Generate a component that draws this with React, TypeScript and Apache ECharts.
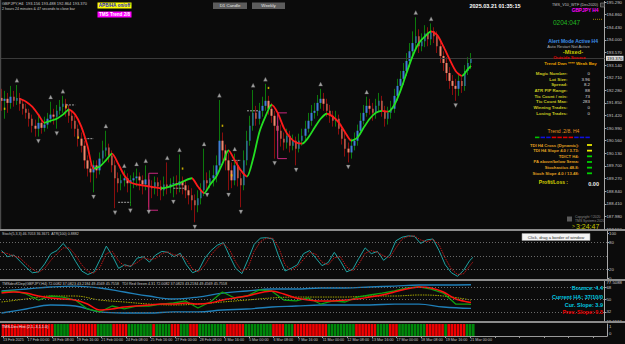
import React, { useEffect, useRef } from "react";
import * as echarts from "echarts";

const FONT = "'Liberation Sans', Arial, sans-serif";
const BG = "#0b0b0b";
const CAT_COUNT = 197;

const xTickLabels = [
  "13 Feb 2025", "17 Feb 00:00", "18 Feb 08:00", "19 Feb 16:00", "21 Feb 00:00",
  "24 Feb 08:00", "25 Feb 16:00", "27 Feb 00:00", "28 Feb 08:00", "3 Mar 16:00",
  "5 Mar 00:00", "6 Mar 08:00", "7 Mar 16:00", "11 Mar 00:00", "12 Mar 08:00",
  "13 Mar 16:00", "17 Mar 00:00", "18 Mar 08:00", "19 Mar 16:00", "21 Mar 00:00",
];

const open = [
  192.02, 191.92, 191.99, 191.85, 192.06, 191.92, 192.02, 191.82, 191.65, 191.51,
  191.31, 191.07, 190.97, 191.17, 191.00, 191.11, 191.31, 191.45, 191.38, 191.58,
  191.72, 191.82, 191.65, 191.41, 191.24, 190.97, 190.63, 190.39, 189.89, 189.61,
  189.48, 189.72, 189.55, 189.95, 190.23, 190.33, 190.06, 189.72, 189.28, 189.11,
  189.21, 189.28, 189.11, 189.21, 189.28, 189.34, 189.21, 189.07, 189.24, 189.00,
  188.94, 189.14, 189.00, 188.87, 189.07, 188.97, 189.07, 189.11, 189.04, 189.17,
  189.04, 188.87, 188.70, 188.53, 188.36, 188.60, 188.87, 189.21, 189.11, 189.28,
  189.38, 189.72, 190.56, 190.23, 189.89, 189.55, 189.21, 189.72, 189.28, 189.04,
  189.89, 190.56, 191.07, 191.51, 191.31, 191.58, 191.75, 191.92, 191.65, 191.41,
  191.07, 190.90, 190.63, 190.50, 190.73, 190.39, 190.56, 190.29, 190.56, 190.73,
  190.97, 191.24, 191.51, 191.58, 191.85, 191.99, 191.82, 191.58, 191.41, 191.24,
  191.31, 190.97, 190.63, 190.29, 190.16, 190.39, 190.56, 190.90, 191.24, 191.51,
  191.75, 191.65, 191.51, 191.75, 191.92, 191.58, 191.31, 191.51, 191.65, 192.09,
  192.43, 192.67, 192.94, 193.28, 193.61, 193.89, 194.12, 193.78, 193.95, 194.22,
  194.02, 194.29, 194.12, 193.78, 193.45, 193.21, 192.87, 192.60, 192.43, 192.33,
  192.60, 192.43, 192.94, 193.21,
];
const close = [
  191.92, 191.99, 191.85, 192.06, 191.92, 192.02, 191.82, 191.65, 191.51, 191.31,
  191.07, 190.97, 191.17, 191.00, 191.11, 191.31, 191.45, 191.38, 191.58, 191.72,
  191.82, 191.65, 191.41, 191.24, 190.97, 190.63, 190.39, 189.89, 189.61, 189.48,
  189.72, 189.55, 189.95, 190.23, 190.33, 190.06, 189.72, 189.28, 189.11, 189.21,
  189.28, 189.11, 189.21, 189.28, 189.34, 189.21, 189.07, 189.24, 189.00, 188.94,
  189.14, 189.00, 188.87, 189.07, 188.97, 189.07, 189.11, 189.04, 189.17, 189.04,
  188.87, 188.70, 188.53, 188.36, 188.60, 188.87, 189.21, 189.11, 189.28, 189.38,
  189.72, 190.56, 190.23, 189.89, 189.55, 189.21, 189.72, 189.28, 189.04, 189.89,
  190.56, 191.07, 191.51, 191.31, 191.58, 191.75, 191.92, 191.65, 191.41, 191.07,
  190.90, 190.63, 190.50, 190.73, 190.39, 190.56, 190.29, 190.56, 190.73, 190.97,
  191.24, 191.51, 191.58, 191.85, 191.99, 191.82, 191.58, 191.41, 191.24, 191.31,
  190.97, 190.63, 190.29, 190.16, 190.39, 190.56, 190.90, 191.24, 191.51, 191.75,
  191.65, 191.51, 191.75, 191.92, 191.58, 191.31, 191.51, 191.65, 192.09, 192.43,
  192.67, 192.94, 193.28, 193.61, 193.89, 194.12, 193.78, 193.95, 194.22, 194.02,
  194.29, 194.12, 193.78, 193.45, 193.21, 192.87, 192.60, 192.43, 192.33, 192.60,
  192.43, 192.94, 193.21, 193.37,
];
const high = [
  192.33, 192.26, 192.19, 192.43, 192.26, 192.46, 192.19, 191.95, 191.82, 191.65,
  191.45, 191.28, 191.41, 191.31, 191.38, 191.51, 191.89, 191.65, 191.78, 191.95,
  192.09, 191.99, 191.78, 191.58, 191.41, 191.11, 190.84, 190.56, 190.06, 189.78,
  189.89, 189.89, 190.16, 190.56, 190.90, 190.46, 190.23, 189.89, 189.48, 189.41,
  189.55, 189.45, 189.38, 189.48, 189.61, 189.48, 189.38, 189.72, 189.38, 189.21,
  189.34, 189.31, 189.21, 189.34, 189.82, 189.28, 189.34, 189.38, 190.09, 189.34,
  189.21, 189.04, 188.94, 188.73, 188.87, 189.11, 190.29, 189.48, 189.55, 189.72,
  190.06, 191.95, 190.84, 190.43, 190.16, 189.82, 190.12, 189.89, 189.48, 190.23,
  190.90, 191.41, 192.29, 191.75, 191.85, 192.06, 192.50, 192.09, 191.85, 191.58,
  191.24, 191.11, 190.84, 190.97, 190.90, 190.77, 190.70, 190.80, 190.97, 191.24,
  191.51, 191.78, 191.85, 192.12, 192.33, 192.19, 191.99, 191.78, 191.58, 191.58,
  191.45, 191.11, 190.84, 190.50, 190.63, 190.84, 191.11, 191.51, 191.78, 192.06,
  191.99, 191.85, 191.99, 192.19, 192.09, 191.75, 191.72, 191.92, 192.33, 192.67,
  192.94, 193.21, 193.55, 193.89, 194.29, 194.77, 194.36, 194.22, 194.50, 194.43,
  194.56, 194.43, 194.29, 193.95, 193.61, 193.41, 193.07, 192.80, 192.67, 192.80,
  192.73, 193.14, 193.41, 193.55,
];
const low = [
  191.58, 191.31, 191.51, 191.65, 191.72, 191.78, 191.58, 191.45, 191.31, 191.04,
  190.84, 190.70, 190.70, 190.80, 190.87, 190.97, 191.17, 191.11, 190.97, 191.45,
  191.51, 191.38, 191.17, 190.97, 190.70, 190.36, 190.16, 189.61, 189.34, 189.14,
  188.80, 189.28, 189.41, 189.82, 190.02, 189.82, 189.48, 188.26, 188.80, 188.87,
  189.00, 188.80, 188.33, 188.94, 189.00, 188.87, 188.73, 188.87, 188.29, 188.60,
  188.73, 188.67, 188.53, 188.67, 188.73, 188.77, 188.63, 188.73, 188.80, 188.73,
  188.60, 188.39, 188.19, 187.78, 188.12, 188.39, 188.67, 188.87, 188.94, 189.00,
  189.14, 189.55, 189.89, 189.55, 188.87, 188.94, 189.04, 189.00, 188.29, 188.87,
  189.72, 190.39, 190.90, 191.07, 191.11, 191.38, 191.58, 191.45, 191.17, 189.95,
  190.56, 190.36, 190.23, 190.29, 190.16, 190.23, 189.72, 190.16, 190.39, 190.56,
  190.84, 191.07, 191.31, 191.41, 191.65, 191.58, 191.38, 191.17, 191.04, 191.04,
  190.77, 190.43, 190.02, 189.82, 189.95, 190.23, 190.39, 190.77, 191.11, 191.38,
  191.45, 191.24, 191.31, 191.58, 191.38, 191.04, 191.11, 191.31, 191.51, 191.92,
  192.26, 192.46, 192.77, 193.07, 193.41, 193.68, 193.55, 193.61, 193.75, 193.78,
  193.82, 193.89, 193.55, 193.21, 192.94, 192.60, 192.33, 192.12, 191.92, 192.09,
  192.19, 192.26, 192.80, 193.00,
];

// smoothed trend line [bar, price]
const maLine = [
  [6, 191.99], [8, 191.89], [10, 191.72], [12, 191.45], [14, 191.17], [16, 191.24], [18, 191.31],
  [20, 191.45], [22, 191.62], [24, 191.45], [26, 191.04], [28, 190.39], [30, 189.61], [32, 189.68],
  [34, 189.89], [36, 190.12], [38, 189.78], [40, 189.38], [42, 189.14], [44, 189.07], [46, 189.04],
  [48, 189.0], [50, 188.97], [52, 188.94], [54, 188.97], [56, 189.04], [58, 189.11], [60, 189.21],
  [62, 189.28], [64, 189.0], [66, 188.77], [68, 189.07], [70, 189.34], [72, 189.78], [74, 190.23],
  [76, 189.89], [78, 189.55], [80, 189.34], [82, 189.95], [84, 190.84], [86, 191.38], [88, 191.78],
  [90, 191.51], [92, 191.0], [94, 190.67], [96, 190.5], [98, 190.46], [100, 190.67], [102, 191.0],
  [104, 191.31], [106, 191.48], [108, 191.38], [110, 191.17], [112, 190.84], [114, 190.56],
  [116, 190.67], [118, 191.0], [120, 191.31], [122, 191.51], [124, 191.58], [126, 191.55],
  [128, 191.78], [130, 192.26], [132, 192.87], [134, 193.45], [136, 193.89], [138, 194.12],
  [140, 194.29], [142, 194.16], [144, 193.78], [146, 193.34], [148, 192.94], [150, 192.77],
  [152, 193.0], [153, 193.11],
];

const upFractals = [5, 16, 20, 34, 40, 44, 47, 54, 58, 66, 71, 76, 82, 86, 104, 119, 135, 140];
const downFractals = [12, 18, 30, 37, 42, 48, 56, 63, 67, 74, 78, 89, 96, 113, 148];

// [fromBar, toBar, price]
const grayDashes = [
  [21, 24, 191.78], [27, 30, 190.63], [38, 42, 188.46], [56, 60, 188.94], [75, 78, 189.89], [80, 84, 191.58],
];
// [fromBar, toBar, upperPrice, lowerPrice]
const magentaBrackets = [
  [48, 51, 189.45, 188.19], [90, 93, 191.51, 189.95],
];
// [bar, price]
const yellowMarks = [
  [1, 191.65], [21, 191.72], [25, 190.67], [59, 189.61], [72, 191.07], [75, 189.38], [87, 192.36],
];

const stochK = [
  [0, 62], [2, 48], [4, 52], [6, 38], [8, 24], [10, 12], [12, 14], [14, 32], [16, 55], [18, 62],
  [20, 78], [22, 62], [24, 38], [26, 16], [28, 8], [30, 14], [32, 42], [34, 72], [36, 50], [38, 22],
  [40, 30], [42, 26], [44, 45], [46, 48], [48, 36], [50, 52], [52, 60], [54, 58], [56, 48], [58, 56],
  [60, 30], [62, 12], [64, 18], [66, 45], [68, 62], [70, 74], [72, 80], [74, 50], [76, 22], [78, 10],
  [80, 42], [82, 76], [84, 90], [86, 91], [88, 88], [90, 48], [92, 16], [94, 22], [96, 30], [98, 55],
  [100, 62], [102, 45], [104, 28], [106, 35], [108, 58], [110, 38], [112, 14], [114, 20], [116, 45],
  [118, 68], [120, 55], [122, 60], [124, 40], [126, 52], [128, 84], [130, 92], [132, 95], [134, 94],
  [136, 78], [138, 86], [140, 88], [142, 62], [144, 30], [146, 12], [148, 4], [150, 18], [152, 40],
  [153, 46.7],
];
const stochD = [
  [0, 58], [2, 55], [4, 50], [6, 45], [8, 32], [10, 20], [12, 13], [14, 22], [16, 40], [18, 55],
  [20, 68], [22, 68], [24, 52], [26, 30], [28, 15], [30, 11], [32, 25], [34, 55], [36, 60], [38, 38],
  [40, 27], [42, 28], [44, 35], [46, 46], [48, 42], [50, 44], [52, 55], [54, 59], [56, 52], [58, 52],
  [60, 42], [62, 20], [64, 14], [66, 30], [68, 52], [70, 68], [72, 78], [74, 64], [76, 36], [78, 15],
  [80, 24], [82, 60], [84, 82], [86, 90], [88, 90], [90, 68], [92, 30], [94, 18], [96, 26], [98, 42],
  [100, 58], [102, 54], [104, 36], [106, 30], [108, 46], [110, 48], [112, 25], [114, 16], [116, 32],
  [118, 56], [120, 62], [122, 58], [124, 50], [126, 46], [128, 68], [130, 88], [132, 94], [134, 95],
  [136, 86], [138, 82], [140, 87], [142, 75], [144, 45], [146, 20], [148, 8], [150, 10], [152, 28],
  [153, 36.4],
];

const tmsUpper = [
  [0, 62.8], [8, 65.7], [16, 68.7], [24, 70.1], [32, 67.2], [40, 61.3], [48, 55.4], [56, 51.0],
  [64, 53.9], [72, 59.8], [80, 62.8], [88, 65.7], [96, 65.7], [104, 67.2], [112, 67.2], [120, 68.7],
  [128, 70.1], [136, 71.6], [144, 71.6], [153, 72.01],
];
const tmsLower = [
  [0, 30.4], [8, 36.3], [16, 42.2], [24, 40.7], [32, 31.9], [40, 30.4], [48, 30.4], [56, 31.9],
  [64, 31.9], [72, 34.8], [80, 36.3], [88, 39.2], [96, 40.7], [104, 42.2], [112, 42.2], [120, 42.2],
  [128, 43.6], [136, 43.6], [144, 39.2], [153, 37.08],
];
const tmsMid = [
  [0, 46.6], [8, 51.0], [16, 55.4], [24, 55.4], [32, 49.5], [40, 46.6], [48, 43.6], [56, 42.2],
  [64, 43.6], [72, 46.6], [80, 49.5], [88, 52.5], [96, 53.9], [104, 53.9], [112, 53.9], [120, 55.4],
  [128, 55.4], [136, 56.9], [144, 55.4], [153, 49.46],
];
const tmsGreen = [
  [0, 61.3], [4, 62.8], [8, 58.4], [12, 49.5], [16, 55.4], [20, 53.9], [24, 49.5], [28, 36.3],
  [32, 31.9], [36, 40.7], [40, 36.3], [44, 40.7], [48, 40.7], [52, 43.6], [56, 45.1], [60, 48.1],
  [64, 37.7], [68, 46.6], [72, 61.3], [76, 52.5], [80, 55.4], [84, 64.3], [88, 62.8], [92, 49.5],
  [96, 48.1], [100, 52.5], [104, 43.6], [108, 48.1], [112, 46.6], [116, 53.9], [120, 56.9],
  [124, 59.8], [128, 62.8], [132, 67.2], [136, 68.7], [140, 65.7], [144, 59.8], [148, 43.6],
  [152, 43.6], [153, 43.22],
];
const tmsRed = [
  [0, 59.8], [4, 61.3], [8, 59.8], [12, 55.4], [16, 52.5], [20, 51.0], [24, 49.5], [28, 43.6],
  [32, 34.8], [36, 36.3], [40, 39.2], [44, 40.7], [48, 42.2], [52, 43.6], [56, 43.6], [60, 45.1],
  [64, 43.6], [68, 45.1], [72, 49.5], [76, 52.5], [80, 55.4], [84, 59.8], [88, 62.8], [92, 58.4],
  [96, 52.5], [100, 49.5], [104, 48.1], [108, 48.1], [112, 49.5], [116, 51.0], [120, 53.9],
  [124, 56.9], [128, 61.3], [132, 65.7], [136, 68.7], [140, 67.2], [144, 61.3], [148, 51.0],
  [152, 46.6], [153, 45.76],
];

const histDir = [
  -1, -1, -1, -1, -1, -1, -1, -1, -1, -1, -1, -1, -1, -1, -1, -1, -1,
  1, 1, 1, 1, 1,
  -1, -1, -1, -1, -1, -1, -1, -1, -1,
  1, 1, 1, 1, 1,
  -1, -1, -1, -1, -1,
  1, 1, 1, 1, 1, 1, 1, 1,
  -1,
  1, 1, 1, 1, 1,
  -1, -1, -1,
  1, 1, 1,
  -1, -1, -1,
  1, 1, 1, 1, 1, 1, 1, 1, 1,
  -1, -1, -1, -1, -1, -1,
  1, 1, 1, 1, 1, 1, 1, 1, 1,
  -1, -1, -1, -1,
  1, 1, 1,
  -1, -1, -1, -1, -1, -1, -1, -1, -1, -1, -1,
  1, 1, 1, 1, 1, 1, 1, 1, 1,
  -1, -1, -1, -1, -1, -1, -1,
  1, 1, 1, 1,
  -1, -1, -1,
  1, 1, 1, 1, 1, 1, 1, 1, 1,
  -1, -1, -1, -1, -1, -1,
  1,
  -1, -1, -1, -1, -1, -1,
  1, 1, 1,
];

const statLabels = ["Magic Number:", "Lot Size:", "Spread:", "ATR PIP Range:", "Tic Count / min:", "Tic Count Max:", "Winning Trades:", "Losing Trades:"];
const statValues = ["0", "3.96", "8.2", "88", "73", "283", "0", "0"];
const trendDashColors = ["#00c000", "#1010e0", "#1010e0", "#e00000", "#e00000", "#e00000", "#e00000", "#1010e0", "#1010e0", "#1010e0"];
const indicatorLabels = ["TDI H4 Cross (Dynamic):", "TDI H4 Slope 4.0 / 3.73:", "TDICT H4:", "PA above/below Sema:", "Stochastics 48.8:", "Stoch Slope 4.0 / 13.48:"];
const indicatorColors = ["#e8e800", "#e8e800", "#00d000", "#00d000", "#00d000", "#00d000"];

function txt(x: number, y: number, text: string, fs: number, fill: string, opts: any = {}) {
  return {
    type: "text", x, y, z: 100, silent: true,
    style: {
      text, fill, fontSize: fs, fontFamily: FONT,
      fontWeight: opts.bold ? "bold" : "normal",
      align: opts.align || "left", verticalAlign: "middle",
    },
  };
}
function box(x: number, y: number, w: number, h: number, fill: string, stroke?: string) {
  return {
    type: "rect", z: 99, silent: true,
    shape: { x, y, width: w, height: h },
    style: { fill, stroke: stroke || null, lineWidth: stroke ? 0.6 : 0 },
  };
}

function buildOption() {
  const cats = Array.from({ length: CAT_COUNT }, (_, i) => String(i));
  const grids = [
    { left: 0, top: 0, width: 607, height: 229 },
    { left: 0, top: 231, width: 607, height: 48 },
    { left: 0, top: 281, width: 607, height: 40 },
    { left: 0, top: 324, width: 607, height: 12 },
  ];
  const wickData = open.map((o, i) => [o, close[i], low[i], high[i]]);
  const bodyData = open.map((o, i) => [o, close[i], Math.min(o, close[i]), Math.max(o, close[i])]);

  const maPieces: any[] = [];
  for (let k = 0; k < maLine.length - 1; k++) {
    const rising = maLine[k + 1][1] >= maLine[k][1];
    const piece: any = { gte: maLine[k][0], color: rising ? "#22e022" : "#ff1a1a" };
    if (k < maLine.length - 2) piece.lt = maLine[k + 1][0];
    else piece.lte = maLine[k + 1][0];
    maPieces.push(piece);
  }

  const dashData: any[] = [];
  grayDashes.forEach(([a, b, p]) => { dashData.push([a, p], [b, p], [b, "-"]); });
  const bracketData: any[] = [];
  magentaBrackets.forEach(([a, b, hi, lo]) => { bracketData.push([b, hi], [a, hi], [a, lo], [b, lo], [b, "-"]); });

  const axisLabelBase = { color: "#c8c8c8", fontSize: 4.3, fontFamily: FONT, margin: 2 };
  const yAxisLine = { show: true, lineStyle: { color: "#a8a8a8", width: 1 } };
  const levelLine = (vals: number[]) => ({
    silent: true, symbol: "none", animation: false,
    label: { show: false },
    lineStyle: { color: "#6a6a6a", type: [1, 2], width: 1 },
    data: vals.map((v) => ({ yAxis: v })),
  });
  const last = close[close.length - 1];

  const graphics: any[] = [
    box(0, 229, 625, 2, "#8c8c8c"),
    box(0, 279, 625, 2, "#8c8c8c"),
    box(0, 321, 625, 2, "#8c8c8c"),
    box(0, 0, 1.2, 229, "#4a4a4a"),
    txt(2, 3.8, "GBPJPY,H4  193.156 193.488 192.864 193.370", 4, "#c8c8c8"),
    txt(2, 9.3, "2 hours 24 minutes & 47 seconds to close bar", 3.6, "#c8c8c8"),
    box(97.5, 2.5, 34, 6, "#ffff00"),
    txt(114.5, 5.6, "APB/HA on/off", 4.6, "#1a1ad0", { bold: true, align: "center" }),
    box(97.5, 11.5, 34, 6, "#ff00ff"),
    txt(114.5, 14.6, "TMS Trend 2/8", 4.6, "#ffffff", { bold: true, align: "center" }),
    box(213, 2.5, 34, 6.5, "#5c5c5c"),
    txt(230, 5.9, "D1 Candle", 4.4, "#e8e8e8", { align: "center" }),
    box(252, 2.5, 33, 6.5, "#5c5c5c"),
    txt(268.5, 5.9, "Weekly", 4.4, "#e8e8e8", { align: "center" }),
    txt(495, 6, "2025.03.21 01:35:15", 5.5, "#ffffff", { bold: true, align: "center" }),
    txt(598, 5, "TMS_V10_WTF (Dec2020)", 3.8, "#c0c0c0", { align: "right" }),
    box(600.5, 3, 4, 4, "#303030", "#909090"),
    txt(598.5, 10.5, "GBPJPY H4", 4.8, "#ff00ff", { bold: true, align: "right" }),
    txt(553, 22.5, "0204:047", 6.5, "#22b822"),
    {
      type: "line", z: 100, silent: true,
      shape: { x1: 593, y1: 19.3, x2: 603, y2: 19.3 },
      style: { stroke: "#c8a000", lineWidth: 0.8, lineDash: [1, 1] },
    },
    txt(598, 40.5, "Alert Mode Active H4", 5, "#3c8ee8", { bold: true, align: "right" }),
    txt(568.5, 46, "Auto Restart Not Active", 4.1, "#b4b4b4", { align: "center" }),
    txt(573, 52, "-Mixed-", 5.8, "#c8c800", { bold: true, align: "center" }),
    txt(569.5, 57.5, "Outside Source", 4.4, "#e00000", { bold: true, align: "center" }),
    txt(570.5, 63.5, "Trend Dwn **** Weak Bay", 4.4, "#e8a000", { bold: true, align: "center" }),
    txt(563.5, 131, "Trend .2/8. H4", 5, "#e89a20", { align: "center" }),
    txt(568, 181.5, "Profit/Loss :", 5, "#d4d400", { bold: true, align: "right" }),
    txt(599, 183.5, "0.00", 5.5, "#f0f0f0", { bold: true, align: "right" }),
    box(567, 216.5, 5, 5, "#5a5a5a"),
    txt(575, 216.5, "Copyright \u00a92020", 3.4, "#8a8a8a"),
    txt(575, 220.8, "TMS Systems 2020", 3.4, "#8a8a8a"),
    txt(572, 226, ">", 5, "#c8c800"),
    txt(576, 226, "3:24:47", 7, "#c8c800"),
    txt(2, 234.3, "Stoch(5,3,3) 46.7053 36.3671  ATR(100) 0.8882", 3.6, "#c8c8c8"),
    box(522, 233.5, 68, 7, "#f4f4f4", "#9a9a9a"),
    txt(556, 237.1, "Click, drag a border of window", 4.2, "#303030", { align: "center" }),
    txt(2, 284.2, "TMSdevKDep(GBPJPY,H4) 72.0082 37.0823 43.2184 49.4569 45.7558   TDI Red Green 4.31 72.0082 37.0823 43.2184 49.4569 45.7558", 3.7, "#c8c8c8"),
    txt(603, 288.3, "Bounce: 4.4", 5.5, "#00c8e0", { bold: true, align: "right" }),
    txt(603, 296.7, "Current HA: 37/10/0", 5.5, "#00c8e0", { bold: true, align: "right" }),
    txt(603, 305, "Cur. Slope: 3.9", 5.5, "#00c8e0", { bold: true, align: "right" }),
    txt(603, 312.3, "Prev. Slope: 0.5", 5.5, "#f00000", { bold: true, align: "right" }),
    txt(2, 327, "TMS-Dev Hist (2,1,-3,1,1.0)", 3.8, "#f0f0f0"),
  ];
  statLabels.forEach((l, i) => {
    const y = 73.3 + i * 5.7;
    graphics.push(txt(567.5, y, l, 4.4, "#c8c820", { bold: true, align: "right" }));
    graphics.push(txt(590, y, statValues[i], 4.4, "#dcdcdc", { align: "right" }));
  });
  trendDashColors.forEach((c, i) => graphics.push(box(535 + i * 5.6, 136.6, 4.4, 1.6, c)));
  indicatorLabels.forEach((l, i) => {
    const y = 145 + i * 5.66;
    graphics.push(txt(579, y, l, 4.2, "#e0a020", { bold: true, align: "right" }));
    graphics.push(box(587, y - 0.9, 5, 1.8, indicatorColors[i]));
  });

  return {
    animation: false,
    backgroundColor: BG,
    textStyle: { fontFamily: FONT },
    grid: grids,
    xAxis: grids.map((_, i) => ({
      type: "category", gridIndex: i, data: cats, boundaryGap: true,
      axisLine: { show: i === 3, lineStyle: { color: "#9a9a9a" } },
      axisTick: { show: i === 3, interval: 7, alignWithLabel: true, length: 2, lineStyle: { color: "#9a9a9a" } },
      axisLabel: i === 3
        ? {
            show: true, interval: 7, align: "left", color: "#c8c8c8", fontSize: 3.7, fontFamily: FONT, margin: 1.5,
            formatter: (_v: string, idx: number) => (idx % 8 === 0 && idx / 8 < xTickLabels.length ? xTickLabels[idx / 8] : ""),
          }
        : { show: false },
      splitLine: { show: false },
    })),
    yAxis: [
      {
        type: "value", gridIndex: 0, position: "right", min: 187.55, max: 195.31, interval: 0.43,
        axisLine: yAxisLine, axisTick: { show: true, length: 2, lineStyle: { color: "#a8a8a8" } },
        axisLabel: { ...axisLabelBase, showMaxLabel: false, formatter: (v: number) => v.toFixed(3) },
        splitLine: { show: false },
      },
      {
        type: "value", gridIndex: 1, position: "right", min: -2, max: 106,
        axisLine: yAxisLine, axisTick: { show: true, length: 2, customValues: [100, 80, 20, 0] },
        axisLabel: { ...axisLabelBase, customValues: [100, 80, 20, 0] },
        splitLine: { show: false },
      },
      {
        type: "value", gridIndex: 2, position: "right", min: 18.61, max: 77.51,
        axisLine: yAxisLine, axisTick: { show: true, length: 2, customValues: [68, 50, 32] },
        axisLabel: {
          ...axisLabelBase, customValues: [76, 68, 50, 32, 18.61],
          formatter: (v: number) => (v > 75 ? "77.5088" : v < 19 ? "18.6112" : String(v)),
        },
        splitLine: { show: false },
      },
      {
        type: "value", gridIndex: 3, position: "right", min: 0, max: 1,
        axisLine: yAxisLine, axisTick: { show: false },
        axisLabel: { ...axisLabelBase, customValues: [0.8, 0.2], formatter: (v: number) => (v > 0.5 ? "1" : "0") },
        splitLine: { show: false },
      },
    ],
    visualMap: [
      { type: "piecewise", show: false, dimension: 0, seriesIndex: 2, pieces: maPieces, outOfRange: { color: "#ff1a1a" } },
    ],
    series: [
      {
        type: "candlestick", xAxisIndex: 0, yAxisIndex: 0, data: wickData, barWidth: 1, silent: true,
        itemStyle: { color: "#0c7a0c", color0: "#8a0e0e", borderColor: "#0c7a0c", borderColor0: "#8a0e0e", borderWidth: 1 },
      },
      {
        type: "candlestick", xAxisIndex: 0, yAxisIndex: 0, data: bodyData, barWidth: 2, silent: true,
        itemStyle: { color: "#3f7fd8", color0: "#f0876c", borderColor: "#3f7fd8", borderColor0: "#f0876c", borderWidth: 0 },
        markLine: {
          silent: true, symbol: "none", animation: false,
          lineStyle: { color: "#3a3a3a", width: 1, type: "solid" },
          label: {
            show: true, position: "end", distance: 1.5, formatter: last.toFixed(3),
            color: "#000", backgroundColor: "#dcdcdc", fontSize: 4.3, fontFamily: FONT, padding: [1, 1, 0, 1],
          },
          data: [{ yAxis: last }],
        },
      },
      {
        type: "line", xAxisIndex: 0, yAxisIndex: 0, data: maLine, smooth: 0.25, showSymbol: false, silent: true,
        lineStyle: { width: 1.8 }, z: 5,
      },
      {
        type: "scatter", xAxisIndex: 0, yAxisIndex: 0, silent: true, symbol: "triangle", symbolSize: 4, z: 6,
        itemStyle: { color: "#c8c8c8", borderColor: "#555", borderWidth: 0.4 },
        data: upFractals.map((i) => [i, high[i] + 0.16]),
      },
      {
        type: "scatter", xAxisIndex: 0, yAxisIndex: 0, silent: true, symbol: "triangle", symbolRotate: 180, symbolSize: 4, z: 6,
        itemStyle: { color: "#c8c8c8", borderColor: "#555", borderWidth: 0.4 },
        data: downFractals.map((i) => [i, low[i] - 0.16]),
      },
      {
        type: "line", xAxisIndex: 0, yAxisIndex: 0, data: dashData, showSymbol: false, silent: true, z: 4,
        lineStyle: { color: "#a0a0a0", width: 1, type: [2, 1] },
      },
      {
        type: "line", xAxisIndex: 0, yAxisIndex: 0, data: bracketData, showSymbol: false, silent: true, z: 4,
        lineStyle: { color: "#c8287e", width: 1 },
      },
      {
        type: "scatter", xAxisIndex: 0, yAxisIndex: 0, silent: true, symbol: "rect", symbolSize: [1.6, 2.2], z: 6,
        itemStyle: { color: "#f0d000" }, data: yellowMarks,
      },
      {
        type: "line", xAxisIndex: 1, yAxisIndex: 1, data: stochK, showSymbol: false, silent: true,
        lineStyle: { color: "#1fa3a3", width: 1 }, markLine: levelLine([80, 50, 20]),
      },
      {
        type: "line", xAxisIndex: 1, yAxisIndex: 1, data: stochD, showSymbol: false, silent: true,
        lineStyle: { color: "#c01818", width: 1, type: [1.5, 1] },
      },
      {
        type: "line", xAxisIndex: 2, yAxisIndex: 2, data: tmsUpper, smooth: 0.4, showSymbol: false, silent: true,
        lineStyle: { color: "#1f7fb8", width: 1.3 }, markLine: levelLine([68, 50, 32]),
      },
      {
        type: "line", xAxisIndex: 2, yAxisIndex: 2, data: tmsLower, smooth: 0.4, showSymbol: false, silent: true,
        lineStyle: { color: "#1f7fb8", width: 1.3 },
      },
      {
        type: "line", xAxisIndex: 2, yAxisIndex: 2, data: tmsMid, smooth: 0.4, showSymbol: false, silent: true,
        lineStyle: { color: "#a8a800", width: 1, type: [1.5, 1] },
      },
      {
        type: "line", xAxisIndex: 2, yAxisIndex: 2, data: tmsGreen, showSymbol: false, silent: true,
        lineStyle: { color: "#10a010", width: 1.3 },
      },
      {
        type: "line", xAxisIndex: 2, yAxisIndex: 2, data: tmsRed, smooth: 0.3, showSymbol: false, silent: true,
        lineStyle: { color: "#ff1010", width: 1.5 },
      },
      {
        type: "bar", xAxisIndex: 3, yAxisIndex: 3, silent: true, barCategoryGap: "16%",
        data: histDir.map((d) => ({ value: 1, itemStyle: { color: d > 0 ? "#00880a" : "#f00000" } })),
      },
    ],
    graphic: graphics,
  };
}

export default function App() {
  const ref = useRef<HTMLDivElement>(null);
  useEffect(() => {
    const chart = echarts.init(ref.current!, null, { renderer: "svg" });
    chart.setOption(buildOption() as any);
    return () => chart.dispose();
  }, []);
  return (
    <div
      ref={ref}
      style={{ position: "fixed", left: 0, top: 0, width: 625, height: 344, background: BG }}
    />
  );
}
